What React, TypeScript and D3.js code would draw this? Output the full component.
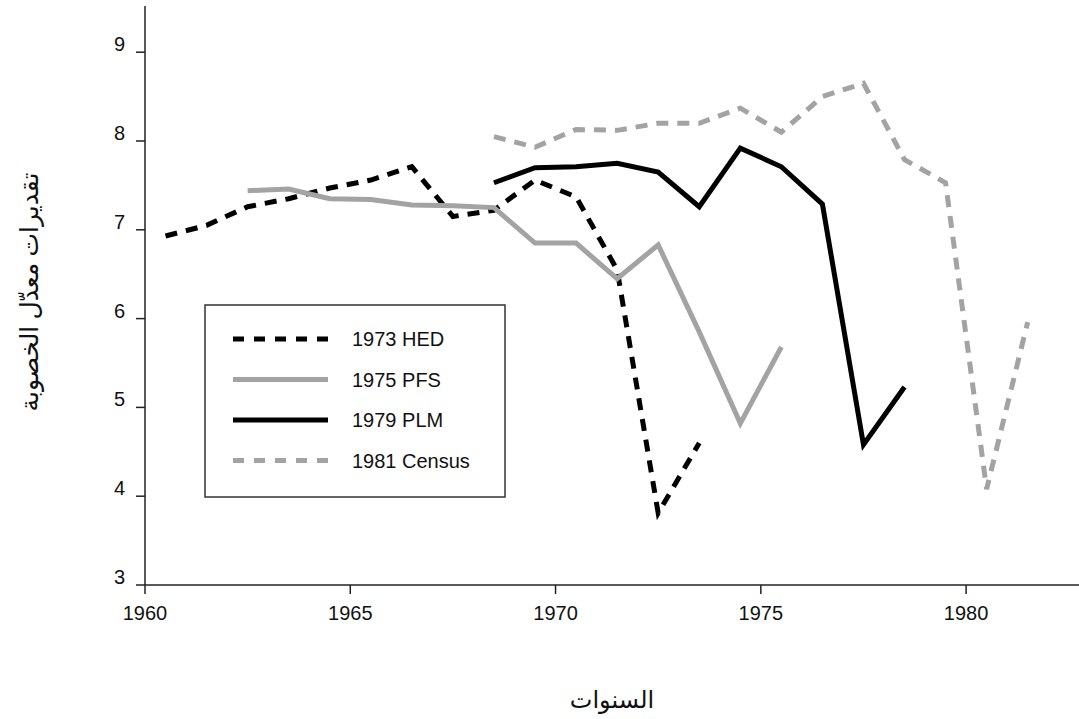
import { useEffect, useRef } from 'react';
import * as d3 from 'd3';

const hedYears = [1960.5, 1961.5, 1962.5, 1963.5, 1964.5, 1965.5, 1966.5, 1967.5, 1968.5, 1969.5, 1970.5, 1971.5, 1972.5, 1973.5];
const hedValues = [6.93, 7.05, 7.26, 7.35, 7.47, 7.56, 7.71, 7.15, 7.22, 7.56, 7.37, 6.55, 3.81, 4.6];

const pfsYears = [1962.5, 1963.5, 1964.5, 1965.5, 1966.5, 1967.5, 1968.5, 1969.5, 1970.5, 1971.5, 1972.5, 1973.5, 1974.5, 1975.5];
const pfsValues = [7.44, 7.46, 7.35, 7.34, 7.28, 7.27, 7.25, 6.85, 6.85, 6.45, 6.83, 5.85, 4.82, 5.68];

const plmYears = [1968.5, 1969.5, 1970.5, 1971.5, 1972.5, 1973.5, 1974.5, 1975.5, 1976.5, 1977.5, 1978.5];
const plmValues = [7.53, 7.7, 7.71, 7.75, 7.65, 7.26, 7.92, 7.71, 7.29, 4.58, 5.23];

const censusYears = [1968.5, 1969.5, 1970.5, 1971.5, 1972.5, 1973.5, 1974.5, 1975.5, 1976.5, 1977.5, 1978.5, 1979.5, 1980.5, 1981.5];
const censusValues = [8.05, 7.93, 8.13, 8.12, 8.2, 8.2, 8.37, 8.1, 8.5, 8.65, 7.79, 7.53, 4.08, 5.96];

const xTicks = [1960, 1965, 1970, 1975, 1980];
const yTicks = [3, 4, 5, 6, 7, 8, 9];

const xTitle = 'السنوات';
const yTitle = 'تقديرات معدّل الخصوبة';

type Pt = { year: number; value: number };

const GRAY = '#a3a3a3';
const SANS = '"Liberation Sans", Arial, sans-serif';
const SERIF = '"Liberation Serif", "DejaVu Serif", "DejaVu Sans", serif';

export default function App() {
  const svgRef = useRef<SVGSVGElement>(null);

  useEffect(() => {
    if (!svgRef.current) return;
    const svg = d3.select(svgRef.current);
    svg.selectAll('*').remove();

    const W = 1079;
    const left = 145, bottom = 585, top = 6;

    const x = d3.scaleLinear().domain([1960, 1982.75]).range([left, W]);
    const y = d3.scaleLinear().domain([3, 9]).range([bottom, bottom - 6 * 88.8]);

    const series = [
      { name: '1973 HED', years: hedYears, values: hedValues, color: '#000', dash: '12,9' },
      { name: '1975 PFS', years: pfsYears, values: pfsValues, color: GRAY, dash: null },
      { name: '1979 PLM', years: plmYears, values: plmValues, color: '#000', dash: null },
      { name: '1981 Census', years: censusYears, values: censusValues, color: GRAY, dash: '12,9' },
    ];

    const line = d3.line<Pt>().x(d => x(d.year)).y(d => y(d.value));

    series.forEach(s => {
      const data: Pt[] = s.years.map((yr, i) => ({ year: yr, value: s.values[i] }));
      svg.append('path')
        .datum(data)
        .attr('fill', 'none')
        .attr('stroke', s.color)
        .attr('stroke-width', 5)
        .attr('stroke-dasharray', s.dash)
        .attr('d', line);
    });

    // axes
    const axisColor = '#222';
    svg.append('line')
      .attr('x1', left).attr('x2', left)
      .attr('y1', top).attr('y2', bottom)
      .attr('stroke', axisColor).attr('stroke-width', 1.5);
    svg.append('line')
      .attr('x1', left).attr('x2', W)
      .attr('y1', bottom).attr('y2', bottom)
      .attr('stroke', axisColor).attr('stroke-width', 1.5);

    yTicks.forEach(t => {
      svg.append('line')
        .attr('x1', left - 9).attr('x2', left)
        .attr('y1', y(t)).attr('y2', y(t))
        .attr('stroke', axisColor).attr('stroke-width', 1.5);
      svg.append('text')
        .attr('x', left - 20)
        .attr('y', y(t) - 1)
        .attr('text-anchor', 'end')
        .style('font-family', SANS)
        .style('font-size', '20px')
        .style('fill', '#111')
        .text(t);
    });

    xTicks.forEach(t => {
      svg.append('line')
        .attr('x1', x(t)).attr('x2', x(t))
        .attr('y1', bottom).attr('y2', bottom + 9)
        .attr('stroke', axisColor).attr('stroke-width', 1.5);
      svg.append('text')
        .attr('x', x(t))
        .attr('y', bottom + 35)
        .attr('text-anchor', 'middle')
        .style('font-family', SANS)
        .style('font-size', '20px')
        .style('fill', '#111')
        .text(t);
    });

    // titles
    svg.append('text')
      .attr('x', 612)
      .attr('y', 708)
      .attr('text-anchor', 'middle')
      .style('font-family', SERIF)
      .style('font-size', '24px')
      .style('fill', '#111')
      .text(xTitle);

    svg.append('text')
      .attr('transform', 'translate(38,292) rotate(-90)')
      .attr('text-anchor', 'middle')
      .style('font-family', SERIF)
      .style('font-size', '25px')
      .style('fill', '#111')
      .text(yTitle);

    // legend
    const lg = svg.append('g');
    lg.append('rect')
      .attr('x', 205).attr('y', 305)
      .attr('width', 300).attr('height', 192)
      .attr('fill', 'none')
      .attr('stroke', '#333')
      .attr('stroke-width', 1.5);

    series.forEach((s, i) => {
      const ly = 339 + i * 40.5;
      lg.append('line')
        .attr('x1', 233).attr('x2', 328)
        .attr('y1', ly).attr('y2', ly)
        .attr('stroke', s.color)
        .attr('stroke-width', 5)
        .attr('stroke-dasharray', s.dash ? '11,10' : null);
      lg.append('text')
        .attr('x', 352)
        .attr('y', ly + 7)
        .style('font-family', SANS)
        .style('font-size', '20px')
        .style('fill', '#111')
        .text(s.name);
    });
  }, []);

  return (
    <svg
      ref={svgRef}
      width={1079}
      height={719}
      style={{ position: 'absolute', left: 0, top: 0, background: '#fff' }}
    ></svg>
  );
}
